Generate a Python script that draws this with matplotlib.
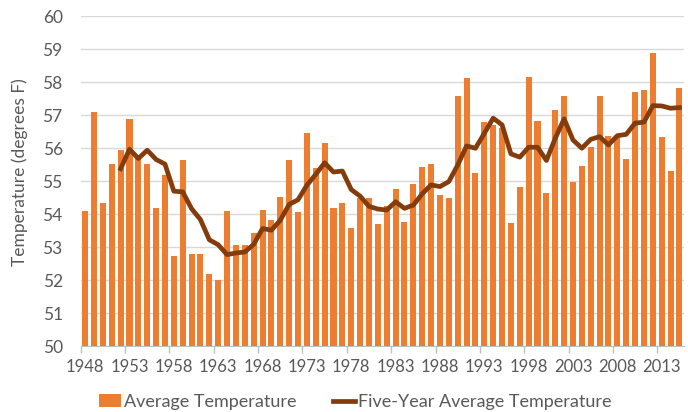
from matplotlib import pyplot as plt
from matplotlib.patches import Patch
from matplotlib.lines import Line2D
import numpy as np

# yearly average temperature (degrees F), 1948-2015
years = np.arange(1948, 2016)
avg_temp = [
    54.09, 57.10, 54.34, 55.53, 55.95, 56.89, 55.69, 55.53, 54.18, 55.18,
    52.74, 55.63, 52.79, 52.79, 52.18, 52.00, 54.09, 53.06, 53.06, 53.44,
    54.12, 53.84, 54.53, 55.64, 54.08, 56.45, 55.41, 56.15, 54.18, 54.33,
    53.59, 54.50, 54.49, 53.72, 54.25, 54.77, 53.76, 54.92, 55.43, 55.53,
    54.57, 54.49, 57.57, 58.13, 55.25, 56.80, 56.71, 56.61, 53.73, 54.82,
    58.15, 56.83, 54.66, 57.16, 57.59, 54.97, 55.47, 56.04, 57.59, 56.38,
    56.35, 55.68, 57.70, 57.77, 58.88, 56.35, 55.30, 57.82,
]

# five-year average, 1952-2015
avg_years = np.arange(1952, 2016)
five_year_avg = [
    55.38, 55.97, 55.69, 55.94, 55.66, 55.52, 54.70, 54.68, 54.17, 53.84,
    53.23, 53.08, 52.78, 52.83, 52.86, 53.09, 53.57, 53.52, 53.82, 54.30,
    54.44, 54.88, 55.21, 55.56, 55.28, 55.31, 54.75, 54.55, 54.24, 54.16,
    54.13, 54.38, 54.18, 54.28, 54.62, 54.89, 54.84, 54.99, 55.49, 56.07,
    56.00, 56.45, 56.91, 56.71, 55.83, 55.73, 56.03, 56.03, 55.63, 56.30,
    56.89, 56.25, 56.00, 56.27, 56.35, 56.10, 56.38, 56.42, 56.76, 56.79,
    57.29, 57.28, 57.21, 57.23,
]

BAR_COLOR = "#ED7D31"
LINE_COLOR = "#843C0C"
TEXT_COLOR = "#595959"
GRID_COLOR = "#D9D9D9"

plt.rcParams["font.family"] = ["Lato", "DejaVu Sans"]

fig = plt.figure(figsize=(6.88, 4.12), dpi=100)
ax = fig.add_axes([0.1173, 0.159, 0.8767, 0.802])

ax.bar(years, avg_temp, width=0.68, color=BAR_COLOR, zorder=2)
ax.plot(avg_years, five_year_avg, color=LINE_COLOR, linewidth=3.4,
        solid_joinstyle="round", zorder=3)

ax.set_xlim(1947.5, 2015.5)
ax.set_ylim(50, 60)

ax.set_yticks(np.arange(50, 61, 1))
ax.yaxis.grid(True, color=GRID_COLOR, linewidth=1.0, zorder=0)
ax.set_axisbelow(True)

label_years = years[::5]
ax.set_xticks(label_years)
ax.set_xticklabels([str(y) for y in label_years])
ax.set_xticks(label_years - 0.5, minor=True)
ax.tick_params(axis="x", which="major", length=0, pad=9, labelsize=12,
               labelcolor=TEXT_COLOR)
ax.tick_params(axis="x", which="minor", length=5, color="#BFBFBF", width=1)
ax.tick_params(axis="y", length=0, pad=13, labelsize=12.5, labelcolor=TEXT_COLOR)

for side in ["top", "right", "left"]:
    ax.spines[side].set_visible(False)
ax.spines["bottom"].set_color("#BFBFBF")

fig.text(0.029, 0.583, "Temperature (degrees F)", rotation=90, ha="center",
         va="center", fontsize=12.5, color=TEXT_COLOR)

handles = [
    Patch(facecolor=BAR_COLOR, label="Average Temperature"),
    Line2D([0], [0], color=LINE_COLOR, linewidth=3.4,
           label="Five-Year Average Temperature"),
]
fig.legend(handles=handles, loc="center", bbox_to_anchor=(0.516, 0.024),
           ncol=2, frameon=False, fontsize=13, labelcolor=TEXT_COLOR,
           handlelength=1.25, handleheight=0.7, handletextpad=0.15,
           columnspacing=2.0)

fig.savefig("out.png", dpi=100)
